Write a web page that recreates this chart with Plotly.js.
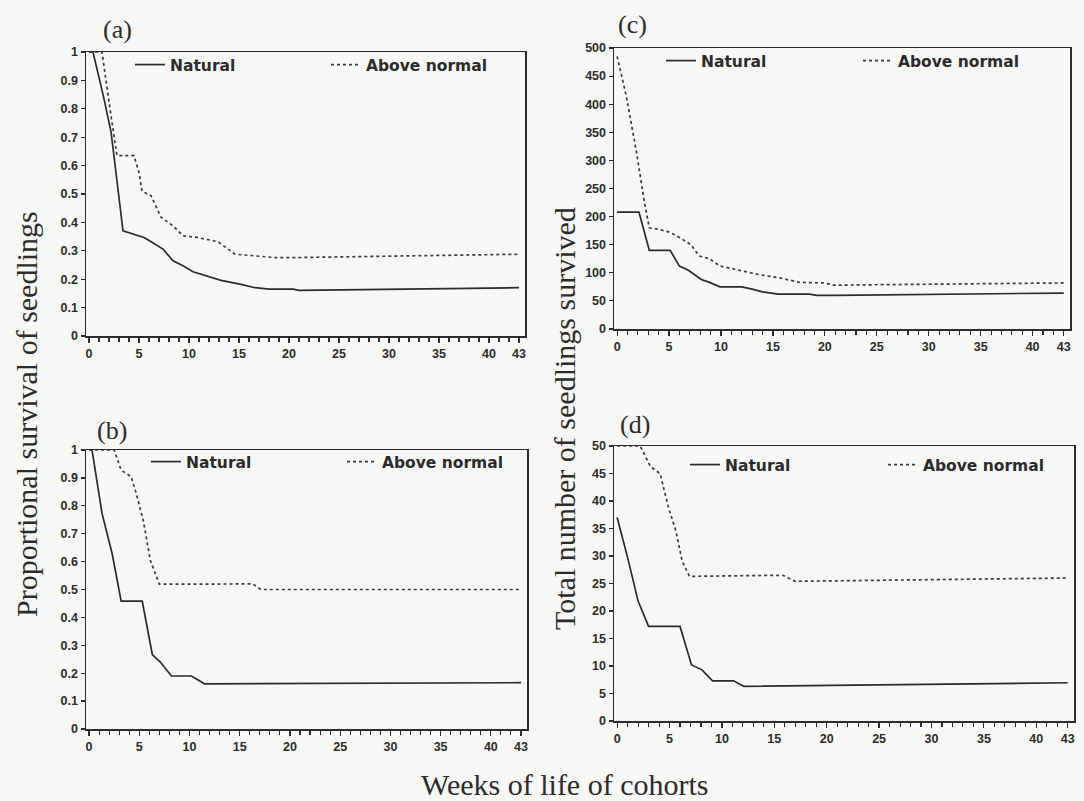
<!DOCTYPE html>
<html>
<head>
<meta charset="utf-8">
<script src="https://cdn.plot.ly/plotly-3.0.1.min.js"></script>
<style>html,body{margin:0;padding:0;background:#f7f7f6;}#chart{width:1084px;height:801px;}</style>
</head>
<body>
<div id="chart"></div>
<script>
// ---- data ----
const seriesNames = ['Natural', 'Above normal'];
const panelLabels = ['(a)', '(b)', '(c)', '(d)'];
const xTickPos = [0, 5, 10, 15, 20, 25, 30, 35, 40, 43];
const xTickLabels = ['0', '5', '10', '15', '20', '25', '30', '35', '40', '43'];
const yTitleLeft = 'Proportional survival of seedlings';
const yTitleRight = 'Total number of seedlings survived';
const xTitle = 'Weeks of life of cohorts';

// (a) proportional survival
const aNatWeeks = [0, 0.4, 1.5, 2.2, 3.4, 4.3, 5.5, 6.3, 7.4, 8.4, 9.4, 10.4, 11.8, 13.2, 15.2, 16.6, 18, 20.4, 21, 43];
const aNatVals  = [1, 1, 0.835, 0.72, 0.37, 0.359, 0.347, 0.33, 0.306, 0.265, 0.247, 0.226, 0.212, 0.196, 0.182, 0.17, 0.165, 0.165, 0.161, 0.17];
const aAbWeeks  = [0, 1.3, 2.1, 2.8, 4.5, 5.0, 5.3, 6.2, 7.2, 8.4, 9.4, 10.8, 12.9, 14.6, 16.6, 18.7, 20.4, 43];
const aAbVals   = [1, 1, 0.8, 0.635, 0.635, 0.576, 0.51, 0.494, 0.418, 0.388, 0.353, 0.347, 0.332, 0.288, 0.282, 0.276, 0.276, 0.288];

// (b) proportional survival
const bNatWeeks = [0, 0.3, 1.3, 2.3, 3.2, 5.3, 6.3, 7.1, 8.2, 10.2, 11.5, 43];
const bNatVals  = [1, 1, 0.772, 0.629, 0.458, 0.458, 0.267, 0.24, 0.19, 0.19, 0.162, 0.166];
const bAbWeeks  = [0, 2.5, 3.2, 4.2, 4.7, 5.4, 6.1, 7.0, 16.3, 17.1, 43];
const bAbVals   = [1, 1, 0.928, 0.904, 0.844, 0.748, 0.605, 0.519, 0.52, 0.50, 0.50];

// (c) total number
const cNatWeeks = [0, 2.1, 3.1, 5.1, 6.0, 6.9, 8.1, 8.9, 9.9, 12.0, 13.0, 14.0, 15.5, 18.5, 19.2, 21, 43];
const cNatVals  = [208, 208, 140, 140, 112, 104, 88, 83, 75, 75, 71, 66, 62, 62, 60, 60, 64];
const cAbWeeks  = [0, 0.9, 1.9, 2.6, 3.1, 4.1, 5.1, 6.0, 7.1, 7.9, 8.9, 9.9, 10.9, 12.3, 13.6, 15.6, 17.6, 19.9, 20.9, 43];
const cAbVals   = [485, 413, 311, 228, 180, 177, 172, 163, 150, 130, 125, 112, 108, 102, 97, 91, 83, 82, 78, 82];

// (d) total number
const dNatWeeks = [0, 1.0, 2.0, 3.0, 6.0, 6.6, 7.1, 8.1, 9.1, 11.1, 12.1, 43];
const dNatVals  = [37, 29.7, 21.8, 17.2, 17.2, 13.2, 10.2, 9.3, 7.3, 7.3, 6.3, 6.95];
const dAbWeeks  = [0, 2.2, 3.2, 4.1, 4.9, 5.6, 6.2, 6.9, 15.8, 17.0, 43];
const dAbVals   = [50, 50, 46.2, 45, 38.8, 34.6, 29.1, 26.3, 26.5, 25.4, 26];

// ---- drawing ----
const W = 1084, H = 801;
const px = v => v / W;
const py = v => 1 - v / H;
const ink = '#2b2b2b';
const tickFont = {family: 'Liberation Sans Narrow, Arial Narrow, Liberation Sans, sans-serif', size: 12.5, color: ink, weight: 'bold'};
const legFont = {family: 'DejaVu Sans, Verdana, sans-serif', size: 15.5, color: ink, weight: 'bold'};
const serif = 'Liberation Serif, Times New Roman, serif';

// panel boxes in pixels: [left, right, top, bottom]
const boxes = {
  a: [86, 525, 52, 336],
  b: [86, 527, 450, 729],
  c: [614, 1070, 48, 329],
  d: [614, 1074, 446, 721]
};
// legend: [left px, centre y px, entry width]
const legPos = {
  a: [130, 65, 151],
  b: [146, 462, 151],
  c: [661, 61, 152],
  d: [685, 465, 153]
};
// panel label centre [x, y]
const labPos = {a: [117, 30], b: [112, 430], c: [632, 25], d: [635, 425]};
const yMax = {a: 1, b: 1, c: 500, d: 50};
const yStep = {a: 0.1, b: 0.1, c: 50, d: 5};

const panels = [
  ['a', aNatWeeks, aNatVals, aAbWeeks, aAbVals],
  ['b', bNatWeeks, bNatVals, bAbWeeks, bAbVals],
  ['c', cNatWeeks, cNatVals, cAbWeeks, cAbVals],
  ['d', dNatWeeks, dNatVals, dAbWeeks, dAbVals]
];

const traces = [];
const layout = {
  width: W, height: H,
  margin: {l: 0, r: 0, t: 0, b: 0},
  paper_bgcolor: '#f7f7f6',
  plot_bgcolor: '#f7f7f6',
  showlegend: true,
  annotations: [],
  font: {family: 'Liberation Sans, sans-serif', color: ink}
};

panels.forEach((p, i) => {
  const key = p[0];
  const n = i + 1;
  const xa = 'x' + (n === 1 ? '' : n), ya = 'y' + (n === 1 ? '' : n);
  const leg = 'legend' + (n === 1 ? '' : n);
  const bx = boxes[key];
  traces.push({x: p[1], y: p[2], xaxis: xa, yaxis: ya, mode: 'lines', name: seriesNames[0],
    legend: leg, line: {color: ink, width: 1.7, dash: 'solid'}});
  traces.push({x: p[3], y: p[4], xaxis: xa, yaxis: ya, mode: 'lines', name: seriesNames[1],
    legend: leg, line: {color: '#3a3a3a', width: 1.7, dash: 'dot'}});

  layout['xaxis' + (n === 1 ? '' : n)] = {
    domain: [px(bx[0]), px(bx[1])], anchor: ya, range: [-0.3, 43.6],
    showgrid: false, zeroline: false, showline: true, mirror: true,
    linecolor: ink, linewidth: 1.5,
    tickmode: 'array', tickvals: xTickPos, ticktext: xTickLabels,
    ticks: 'outside', ticklen: 5, tickwidth: 1.2, tickcolor: ink, tickfont: tickFont,
    minor: {dtick: 1, tick0: 0, ticks: 'outside', ticklen: 4, tickwidth: 1.1, tickcolor: ink, showgrid: false},
    fixedrange: true
  };
  layout['yaxis' + (n === 1 ? '' : n)] = {
    domain: [py(bx[3]), py(bx[2])], anchor: xa, range: [0, yMax[key]],
    showgrid: false, zeroline: false, showline: true, mirror: true,
    linecolor: ink, linewidth: 1.5,
    dtick: yStep[key], tick0: 0,
    ticks: 'outside', ticklen: 4, tickwidth: 1.2, tickcolor: ink, tickfont: tickFont,
    fixedrange: true
  };
  const lp = legPos[key];
  layout[leg] = {
    x: px(lp[0]), y: py(lp[1]), xanchor: 'left', yanchor: 'middle',
    orientation: 'h', entrywidth: lp[2], entrywidthmode: 'pixels',
    bgcolor: 'rgba(0,0,0,0)', borderwidth: 0, font: legFont, itemwidth: 30
  };
  const lb = labPos[key];
  layout.annotations.push({
    text: panelLabels[i], xref: 'paper', yref: 'paper',
    x: px(lb[0]), y: py(lb[1]), xanchor: 'center', yanchor: 'middle',
    showarrow: false, font: {family: serif, size: 26, color: ink}
  });
});

layout.annotations.push({
  text: yTitleLeft, xref: 'paper', yref: 'paper', x: px(26), y: py(414),
  xanchor: 'center', yanchor: 'middle', textangle: -90, showarrow: false,
  font: {family: serif, size: 30, color: ink}
});
layout.annotations.push({
  text: yTitleRight, xref: 'paper', yref: 'paper', x: px(564), y: py(418),
  xanchor: 'center', yanchor: 'middle', textangle: -90, showarrow: false,
  font: {family: serif, size: 30, color: ink}
});
layout.annotations.push({
  text: xTitle, xref: 'paper', yref: 'paper', x: px(565), y: py(784),
  xanchor: 'center', yanchor: 'middle', showarrow: false,
  font: {family: serif, size: 30, color: ink}
});

Plotly.newPlot('chart', traces, layout, {staticPlot: true, displayModeBar: false});
</script>
</body>
</html>
